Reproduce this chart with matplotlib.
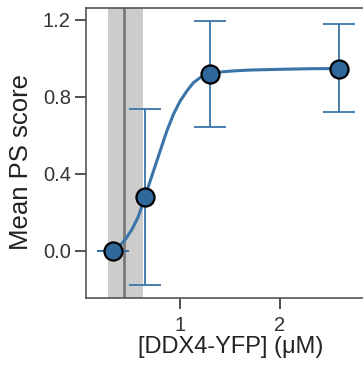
import matplotlib
matplotlib.use("Agg")
import matplotlib.pyplot as plt

plt.rcParams["font.family"] = ["Liberation Sans", "DejaVu Sans"]

# measured points
conc = [0.333, 0.653, 1.30, 2.593]
ps_mean = [0.0, 0.278, 0.917, 0.946]
err_low = [0.0, 0.458, 0.275, 0.224]
err_high = [0.0, 0.460, 0.278, 0.229]

# fitted curve
fit_x = [0.333, 0.36, 0.40, 0.45, 0.517, 0.583, 0.65, 0.733, 0.80, 0.867,
         0.933, 1.0, 1.067, 1.133, 1.2, 1.267, 1.33, 1.4, 1.55, 1.7, 2.0,
         2.3, 2.593]
fit_y = [0.0, 0.008, 0.027, 0.056, 0.108, 0.177, 0.281, 0.411, 0.516, 0.620,
         0.707, 0.776, 0.828, 0.872, 0.898, 0.915, 0.922, 0.928, 0.934,
         0.938, 0.942, 0.945, 0.946]

# saturation concentration with uncertainty band
c_sat = 0.443
c_sat_lo = 0.277
c_sat_hi = 0.627

blue = "#3a74a8"
fill = "#2f699c"

fig = plt.figure(figsize=(3.63, 3.67), dpi=100)
ax = fig.add_axes([0.237, 0.188, 0.796, 0.790])

ax.axvspan(c_sat_lo, c_sat_hi, color="#cccccc", lw=0, zorder=0)
ax.axvline(c_sat, color="#7a7a7a", lw=2, zorder=1)

ax.plot(fit_x, fit_y, color=blue, lw=2.2, zorder=2, solid_joinstyle="round")
ax.errorbar(conc, ps_mean, yerr=[err_low, err_high], fmt="none",
            ecolor=blue, elinewidth=1.3, capsize=11.5, capthick=1.3, zorder=2)
ax.plot(conc, ps_mean, "o", ms=13, mfc=fill, mec="black", mew=1.6, zorder=3)

ax.set_xlim(0.06, 2.95)
ax.set_ylim(-0.246, 1.26)
ax.set_xticks([1, 2])
ax.set_yticks([0.0, 0.4, 0.8, 1.2])
ax.set_yticklabels(["0.0", "0.4", "0.8", "1.2"])

for s in ax.spines.values():
    s.set_color("#555555")
    s.set_linewidth(1.2)
ax.tick_params(direction="out", length=8, width=1.2, color="#333333",
               labelsize=14.5, labelcolor="#333333", pad=3)
ax.tick_params(axis="x", pad=5)

ax.set_xlabel("[DDX4-YFP] (μM)", fontsize=17, color="#222222", labelpad=1)
ax.set_ylabel("Mean PS score", fontsize=18.5, color="#222222", labelpad=7)
ax.yaxis.label.set_y(0.47)

fig.savefig("out.png", dpi=100)
